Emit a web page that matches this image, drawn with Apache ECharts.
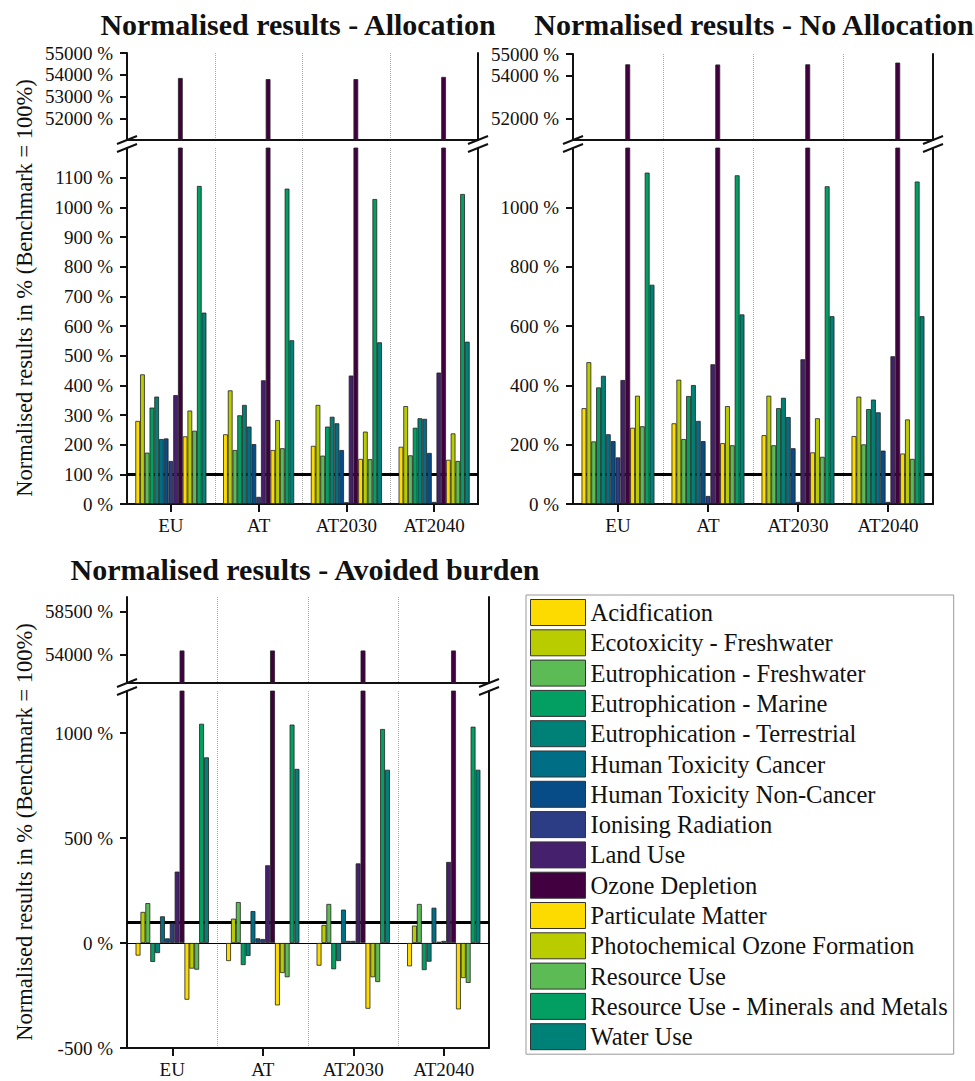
<!DOCTYPE html>
<html>
<head>
<meta charset="utf-8">
<title>Normalised results</title>
<script src="https://cdn.jsdelivr.net/npm/echarts@6/dist/echarts.min.js"></script>
<style>
  html, body { margin: 0; padding: 0; background: #fff; }
  #chart { width: 975px; height: 1081px; }
</style>
</head>
<body>
<div id="chart"></div>
<script>
// categories on the x axis of every panel
var categories = ['EU', 'AT', 'AT2030', 'AT2040'];

// impact categories, in legend / bar order
var indicators = [
  'Acidfication',
  'Ecotoxicity - Freshwater',
  'Eutrophication - Freshwater',
  'Eutrophication - Marine',
  'Eutrophication - Terrestrial',
  'Human Toxicity Cancer',
  'Human Toxicity Non-Cancer',
  'Ionising Radiation',
  'Land Use',
  'Ozone Depletion',
  'Particulate Matter',
  'Photochemical Ozone Formation',
  'Resource Use',
  'Resource Use - Minerals and Metals',
  'Water Use'
];

var colors = [
  '#fdda00', '#b9cc00', '#5cbb55', '#039e62', '#008177',
  '#006e85', '#074c86', '#2d3d85', '#45206d', '#420040',
  '#fdda00', '#b9cc00', '#5cbb55', '#039e62', '#008177'
];

// values in % of benchmark, one row per category (EU, AT, AT2030, AT2040)
var allocation = [
  [280, 437, 173, 325, 362, 219, 221, 145, 367, 53850, 228, 315, 247, 1072, 645],
  [235, 383, 182, 299, 334, 261, 202, 24, 417, 53800, 182, 283, 188, 1063, 552],
  [196, 334, 163, 261, 294, 272, 182, 6, 433, 53800, 152, 244, 151, 1028, 545],
  [193, 330, 164, 257, 289, 287, 172, 7, 443, 53900, 149, 238, 145, 1045, 547]
];

var noAllocation = [
  [323, 478, 211, 393, 432, 235, 212, 157, 418, 54520, 257, 365, 262, 1117, 739],
  [272, 419, 219, 364, 401, 280, 212, 27, 471, 54510, 205, 330, 198, 1108, 639],
  [232, 365, 198, 323, 358, 293, 188, 7, 488, 54520, 174, 289, 159, 1071, 633],
  [229, 362, 201, 320, 352, 309, 180, 7, 498, 54600, 170, 285, 152, 1087, 633]
];

var avoidedBurden = [
  [-60, 148, 190, -90, -48, 127, 22, 95, 340, 54400, -270, -122, -127, 1044, 884],
  [-86, 116, 195, -105, -62, 152, 22, 19, 370, 54400, -297, -143, -163, 1040, 829],
  [-108, 86, 186, -125, -86, 159, 10, 10, 379, 54400, -313, -163, -186, 1019, 825],
  [-111, 83, 186, -129, -89, 168, 6, 10, 386, 54400, -316, -167, -190, 1030, 825]
];

// tick labels of the broken y axes
var allocTicksUpper = [52000, 53000, 54000, 55000];
var allocTicksLower = [0, 100, 200, 300, 400, 500, 600, 700, 800, 900, 1000, 1100];
var noAllocTicksUpper = [52000, 54000, 55000];
var noAllocTicksLower = [0, 200, 400, 600, 800, 1000];
var avoidedTicksUpper = [54000, 58500];
var avoidedTicksLower = [-500, 0, 500, 1000];

var FONT = '"Liberation Serif", "Times New Roman", serif';
var INK = '#111';

var panels = [
  {
    title: 'Normalised results - Allocation', titleX: 298, titleY: 24,
    rows: allocation, left: 127, width: 351,
    upTop: 53, upH: 87, lowTop: 148, lowH: 356,
    upRange: [51000, 55000], lowRange: [0, 1200],
    upTicks: allocTicksUpper, lowTicks: allocTicksLower,
    yName: { x: 24, y: 288 }, zeroLine: false
  },
  {
    title: 'Normalised results - No Allocation', titleX: 754, titleY: 24,
    rows: noAllocation, left: 573, width: 360,
    upTop: 54, upH: 86, lowTop: 148, lowH: 356,
    upRange: [51000, 55000], lowRange: [0, 1200],
    upTicks: noAllocTicksUpper, lowTicks: noAllocTicksLower,
    yName: null, zeroLine: false
  },
  {
    title: 'Normalised results - Avoided burden', titleX: 305, titleY: 569,
    rows: avoidedBurden, left: 127, width: 362,
    upTop: 597, upH: 86, lowTop: 691, lowH: 357,
    upRange: [51000, 60000], lowRange: [-500, 1200],
    upTicks: avoidedTicksUpper, lowTicks: avoidedTicksLower,
    yName: { x: 24, y: 832 }, zeroLine: true
  }
];

var grids = [], xAxes = [], yAxes = [], series = [], graphics = [];
var frameLine = { show: true, lineStyle: { color: INK, width: 2 } };
var dotted = { show: true, lineStyle: { color: '#aaa', width: 1, type: 'dotted' } };
var labelFmt = function (v) { return v + ' %'; };

panels.forEach(function (p, i) {
  var gu = i * 2, gl = i * 2 + 1;
  grids.push({ left: p.left, top: p.upTop, width: p.width, height: p.upH, containLabel: false, outerBoundsMode: 'none' });
  grids.push({ left: p.left, top: p.lowTop, width: p.width, height: p.lowH, containLabel: false, outerBoundsMode: 'none' });

  xAxes.push({
    type: 'category', gridIndex: gu, data: categories, position: 'top',
    axisLine: frameLine, axisTick: { show: false }, axisLabel: { show: false }, splitLine: dotted
  });
  xAxes.push({
    type: 'category', gridIndex: gl, data: categories, position: 'bottom',
    axisLine: { show: true, onZero: false, lineStyle: { color: INK, width: 2 } },
    axisTick: { show: true, alignWithLabel: true, length: 8, lineStyle: { color: INK, width: 2 } },
    axisLabel: { color: INK, fontFamily: FONT, fontSize: 19, margin: 12 },
    splitLine: dotted
  });

  [[gu, p.upRange, p.upTicks], [gl, p.lowRange, p.lowTicks]].forEach(function (a) {
    yAxes.push({
      type: 'value', gridIndex: a[0], min: a[1][0], max: a[1][1], position: 'left',
      axisLine: frameLine,
      axisTick: { show: true, length: 7, lineStyle: { color: INK, width: 2 }, customValues: a[2] },
      axisLabel: { color: INK, fontFamily: FONT, fontSize: 19, margin: 14, formatter: labelFmt, customValues: a[2] },
      splitLine: { show: false }
    });
  });
});

// right-hand frame lines
panels.forEach(function (p, i) {
  [i * 2, i * 2 + 1].forEach(function (g) {
    yAxes.push({
      type: 'value', gridIndex: g, position: 'right', min: 0, max: 1,
      axisLine: frameLine, axisTick: { show: false }, axisLabel: { show: false }, splitLine: { show: false }
    });
  });
});

panels.forEach(function (p, i) {
  var gu = i * 2, gl = i * 2 + 1;
  indicators.forEach(function (name, k) {
    var style = { color: colors[k], borderColor: '#222', borderWidth: 0.8 };
    var common = { name: name, type: 'bar', barGap: '0%', barCategoryGap: '19%', clip: true, itemStyle: style, z: 2, silent: true };
    series.push(Object.assign({}, common, {
      xAxisIndex: gu, yAxisIndex: gu,
      data: p.rows.map(function (r) { return r[k] > p.upRange[0] ? r[k] : null; })
    }));
    var low = Object.assign({}, common, {
      xAxisIndex: gl, yAxisIndex: gl,
      data: p.rows.map(function (r) { return r[k]; })
    });
    if (k === 0) {
      var lines = [{ yAxis: 100, lineStyle: { color: '#000', width: 3, type: 'solid' } }];
      if (p.zeroLine) lines.push({ yAxis: 0, lineStyle: { color: '#000', width: 1.2, type: 'solid' } });
      low.markLine = { silent: true, symbol: 'none', z: 1, label: { show: false }, data: lines };
    }
    series.push(low);
  });

  // titles
  graphics.push({
    type: 'text', x: p.titleX, y: p.titleY,
    style: { text: p.title, font: 'bold 30px ' + FONT, fill: INK, align: 'center', verticalAlign: 'middle' }
  });
  if (p.yName) {
    graphics.push({
      type: 'text', x: p.yName.x, y: p.yName.y, rotation: Math.PI / 2,
      style: { text: 'Normalised results in % (Benchmark = 100%)', font: '22.5px ' + FONT, fill: INK, align: 'center', verticalAlign: 'middle' }
    });
  }
  // axis break marks "//"
  var yb1 = p.upTop + p.upH, yb2 = p.lowTop;
  [p.left, p.left + p.width].forEach(function (x) {
    [yb1, yb2].forEach(function (yb) {
      graphics.push({
        type: 'line', shape: { x1: x - 10, y1: yb + 4, x2: x + 10, y2: yb - 4 },
        style: { stroke: INK, lineWidth: 2 }, z: 10
      });
    });
  });
});

var chart = echarts.init(document.getElementById('chart'), null, { renderer: 'svg' });
chart.setOption({
  animation: false,
  backgroundColor: '#fff',
  textStyle: { fontFamily: FONT },
  grid: grids,
  xAxis: xAxes,
  yAxis: yAxes,
  legend: {
    data: indicators, orient: 'vertical', left: 526, top: 595,
    itemWidth: 55, itemHeight: 26, itemGap: 3.3, padding: [4, 6, 4, 4],
    borderColor: '#999', borderWidth: 1, icon: 'rect', selectedMode: false,
    itemStyle: { borderColor: '#333', borderWidth: 1 },
    textStyle: { color: INK, fontFamily: FONT, fontSize: 24.5, lineHeight: 26 }
  },
  series: series,
  graphic: graphics
});
</script>
</body>
</html>
